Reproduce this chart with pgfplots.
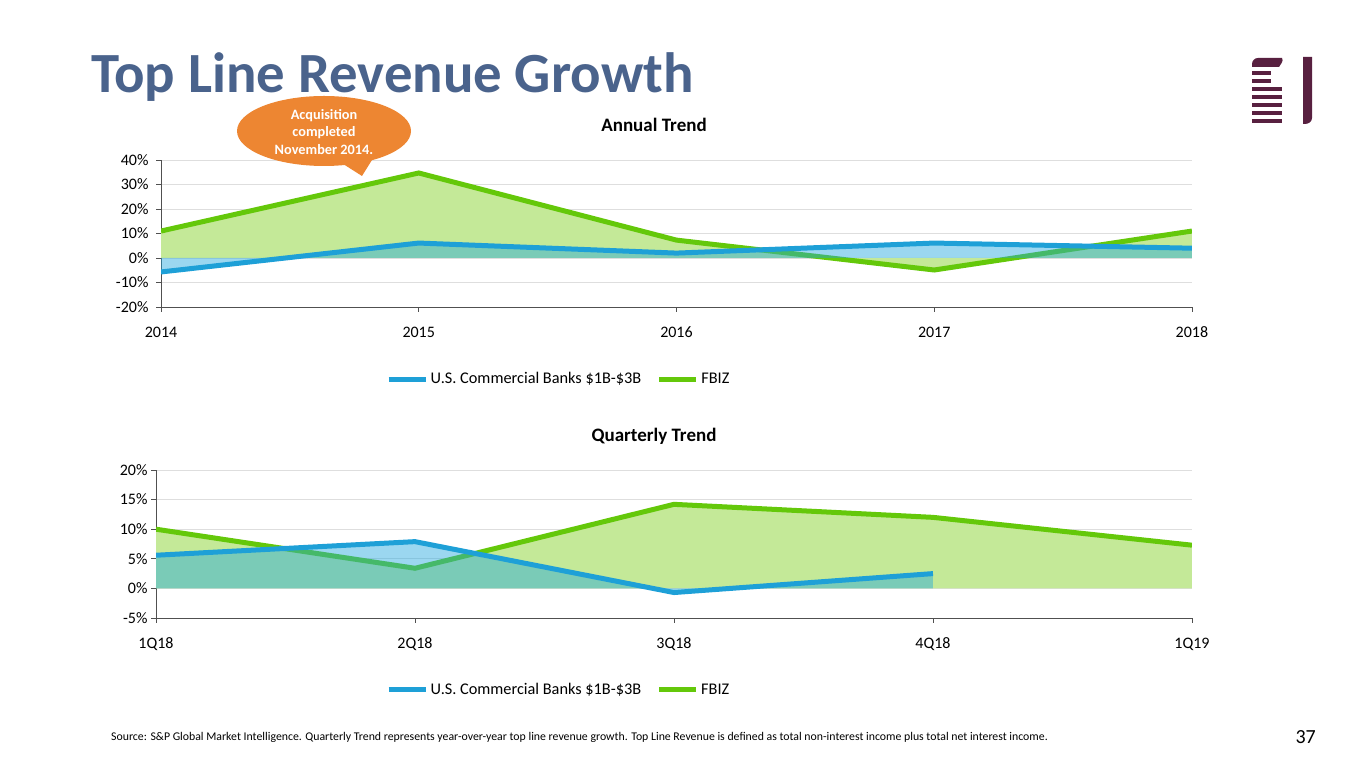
\documentclass[border=0pt]{standalone}
\usepackage{fontspec}
\setmainfont{Carlito}[Numbers=Lining]
\usepackage{pgfplots}
\pgfplotsset{compat=1.18}
\definecolor{bankline}{RGB}{30,160,215}
\definecolor{fbizline}{RGB}{100,200,10}
\definecolor{fbizfill}{RGB}{196,233,152}
\definecolor{bankfill}{RGB}{33,167,222}
\definecolor{gridc}{RGB}{222,222,222}
\definecolor{axisc}{RGB}{80,80,80}
\definecolor{titleblue}{RGB}{74,99,140}
\definecolor{callout}{RGB}{237,134,50}
\definecolor{logo}{RGB}{88,32,64}
\pgfplotsset{
  trend/.style={
    scale only axis,
    axis lines*=left,
    axis line style={axisc, line width=0.8pt},
    ymajorgrids,
    grid style={gridc, line width=0.8pt},
    tick style={axisc, line width=0.8pt},
    major tick length=5pt,
    tick align=outside,
    xmin=0, xmax=4, xtick={0,1,2,3,4},
    ticklabel style={font=\fontsize{16}{19}\selectfont, text=black},
    xticklabel style={yshift=-11pt, text height=11pt, text depth=3pt},
    reverse legend,
    legend columns=2,
    legend style={draw=none, fill=none, font=\fontsize{16.3}{19}\selectfont,
      /tikz/every even column/.append style={column sep=13pt},
      nodes={inner xsep=2.5pt}},
    legend cell align=left,
    legend image code/.code={\draw[##1, line width=5pt] (0pt,0pt) -- (37pt,0pt);},
  }
}
\begin{document}
\begin{tikzpicture}[x=1pt,y=1pt]
\path[use as bounding box] (0,0) rectangle (1365,768);
% title
\node[anchor=base west, inner sep=0, text=titleblue, font=\fontsize{56.8}{68}\selectfont\bfseries] at (91,675) {Top Line Revenue Growth};
% logo
\fill[logo] (1258,710) to[out=180,in=90] (1252,704) -- (1252,701) -- (1279,701) to[out=60,in=-60] (1282,710) -- cycle;
\fill[logo] (1252,693) rectangle (1271,697);
\fill[logo] (1252,685) rectangle (1271,689);
\fill[logo] (1252,677) rectangle (1282,681);
\fill[logo] (1252,669) rectangle (1282,673);
\fill[logo] (1252,661) rectangle (1282,665);
\fill[logo] (1252,653) rectangle (1282,657);
\fill[logo] (1252,645) rectangle (1282,649);
\fill[logo] (1303,644) -- (1303,711) -- (1312,711) -- (1312,650) to[out=-90,in=0] (1305,644) -- cycle;
% annual
\begin{axis}[trend, at={(161pt,461pt)}, anchor=south west, width=1031pt, height=147pt,
  ymin=-20, ymax=40, ytick={-20,-10,0,10,20,30,40},
  yticklabels={-20\%,-10\%,0\%,10\%,20\%,30\%,40\%},
  yticklabel style={xshift=-4pt},
  xticklabels={2014,2015,2016,2017,2018},
  legend style={at={(0.2153,-0.49)}, anchor=west}]
\addplot[fill=fbizfill, draw=none, forget plot] coordinates {(0,11) (1,34.7) (2,7.3) (3,-4.9) (4,11)} \closedcycle;
\addplot[fbizline, line width=5pt] coordinates {(0,11) (1,34.7) (2,7.3) (3,-4.9) (4,11)};
\addlegendentry{FBIZ}
\addplot[fill=bankfill, fill opacity=0.45, draw=none, forget plot] coordinates {(0,-5.7) (1,6.1) (2,2) (3,6.1) (4,4)} \closedcycle;
\addplot[bankline, line width=5pt] coordinates {(0,-5.7) (1,6.1) (2,2) (3,6.1) (4,4)};
\addlegendentry{U.S. Commercial Banks \$1B-\$3B}
\end{axis}
\node[font=\fontsize{19}{22}\selectfont\bfseries] at (654,643) {Annual Trend};
% quarterly
\begin{axis}[trend, at={(156pt,150pt)}, anchor=south west, width=1036pt, height=148pt,
  ymin=-5, ymax=20, ytick={-5,0,5,10,15,20},
  yticklabels={-5\%,0\%,5\%,10\%,15\%,20\%},
  xticklabels={1Q18,2Q18,3Q18,4Q18,1Q19},
  legend style={at={(0.219,-0.486)}, anchor=west}]
\addplot[fill=fbizfill, draw=none, forget plot] coordinates {(0,10) (1,3.4) (2,14.2) (3,12) (4,7.3)} \closedcycle;
\addplot[fbizline, line width=5pt] coordinates {(0,10) (1,3.4) (2,14.2) (3,12) (4,7.3)};
\addlegendentry{FBIZ}
\addplot[fill=bankfill, fill opacity=0.45, draw=none, forget plot] coordinates {(0,5.6) (1,7.9) (2,-0.7) (3,2.5)} \closedcycle;
\addplot[bankline, line width=5pt] coordinates {(0,5.6) (1,7.9) (2,-0.7) (3,2.5)};
\addlegendentry{U.S. Commercial Banks \$1B-\$3B}
\end{axis}
\node[font=\fontsize{19}{22}\selectfont\bfseries] at (654,332) {Quarterly Trend};
% callout
\fill[callout] (340,606) -- (362,592) -- (372,608) -- cycle;
\fill[callout] (324,637) ellipse (87 and 35);
\node[align=center, text=white, font=\fontsize{14.3}{17.5}\selectfont\bfseries] at (324,636) {Acquisition\\completed\\November 2014.};
% footer
\node[anchor=west, inner sep=0, font=\fontsize{11.8}{14}\selectfont] at (111,31) {Source: S\&P Global Market Intelligence. Quarterly Trend represents year-over-year top line revenue growth. Top Line Revenue is defined as total non-interest income plus total net interest income.};
\node[anchor=east, inner sep=0, font=\fontsize{20}{24}\selectfont] at (1316,31) {37};
\end{tikzpicture}
\end{document}
